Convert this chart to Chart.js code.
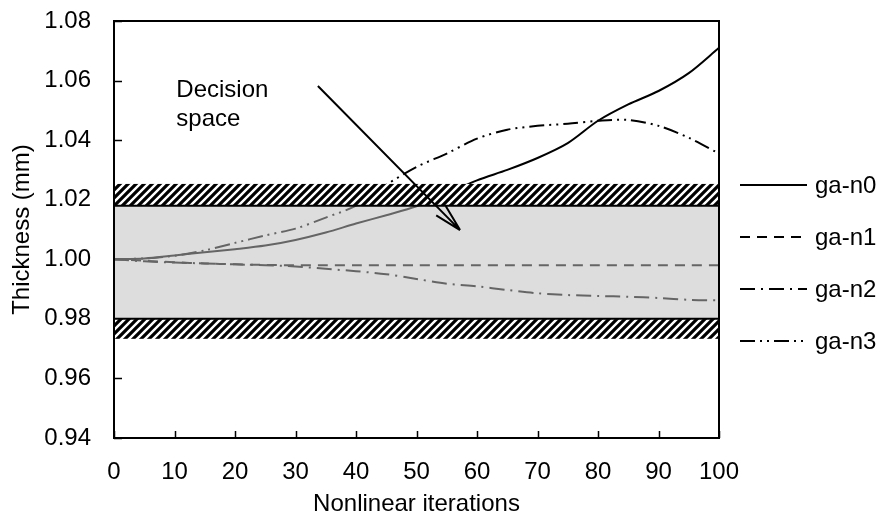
<!DOCTYPE html>
<html lang="en">
<head>
  <meta charset="UTF-8">
  <title>Thickness vs nonlinear iterations</title>
  <script src="https://cdn.jsdelivr.net/npm/chart.js"></script>
  <style>
    body { margin: 0; background: #fff; }
    #wrap { width: 884px; height: 519px; }
  </style>
</head>
<body>
  <div id="wrap"><canvas id="thicknessChart" width="884" height="519"></canvas></div>

  <script>
    // data
    const iterations = [0, 5, 10, 15, 20, 25, 30, 35, 40, 45, 50, 55, 60, 65, 70, 75, 80, 85, 90, 95, 100];
    const gaN0 = [1.000, 1.0003, 1.0013, 1.0024, 1.0034, 1.0046, 1.0065, 1.009, 1.012, 1.0148, 1.0178, 1.022, 1.0265, 1.030, 1.034, 1.039, 1.0465, 1.052, 1.0565, 1.0625, 1.071];
    const gaN1 = [1.000, 0.9995, 0.999, 0.9986, 0.9983, 0.9981, 0.998, 0.998, 0.998, 0.998, 0.998, 0.998, 0.998, 0.998, 0.998, 0.998, 0.998, 0.998, 0.998, 0.998, 0.998];
    const gaN2 = [1.000, 0.9993, 0.9989, 0.9986, 0.9983, 0.998, 0.9976, 0.9968, 0.996, 0.995, 0.9934, 0.9918, 0.9909, 0.9897, 0.9886, 0.988, 0.9877, 0.9874, 0.987, 0.9864, 0.9862];
    const gaN3 = [1.000, 1.0003, 1.0012, 1.003, 1.0055, 1.008, 1.0103, 1.014, 1.018, 1.025, 1.031, 1.0355, 1.0405, 1.0435, 1.0448, 1.0455, 1.0465, 1.0468, 1.0448, 1.0408, 1.0355];
    const seriesNames = ['ga-n0', 'ga-n1', 'ga-n2', 'ga-n3'];
    const seriesDash = [[], [10, 7], [15, 6, 2, 6], [15, 5, 2, 5, 2, 5]];

    // decision space and tolerance bands (thickness, mm)
    const boxLow = 0.98, boxHigh = 1.018;
    const hatchTop = [1.018, 1.0253];
    const hatchBottom = [0.9733, 0.98];
    const arrowFrom = [33.7, 1.0582], arrowTo = [57.2, 1.0098];
    const noteAt = [10.3, 1.0544];
    const noteLines = ['Decision', 'space'];

    const FONT = '"Liberation Sans", Arial, sans-serif';
    Chart.defaults.font.family = FONT;
    Chart.defaults.color = '#000';

    const allSeries = [gaN0, gaN1, gaN2, gaN3];
    const datasets = allSeries.map((vals, i) => ({
      label: seriesNames[i],
      data: iterations.map((x, j) => ({ x: x, y: vals[j] })),
      borderColor: '#000',
      borderWidth: 2,
      borderDash: seriesDash[i],
      pointRadius: 0,
      tension: 0.3,
      fill: false
    }));

    // diagonal hatch pattern
    function makeHatch(ctx) {
      const c = document.createElement('canvas');
      c.width = 8; c.height = 8;
      const p = c.getContext('2d');
      p.fillStyle = '#fff';
      p.fillRect(0, 0, 8, 8);
      p.strokeStyle = '#000';
      p.lineWidth = 3.2;
      p.beginPath();
      p.moveTo(-2, 10); p.lineTo(10, -2);
      p.moveTo(-6, 6); p.lineTo(6, -6);
      p.moveTo(2, 14); p.lineTo(14, 2);
      p.stroke();
      return ctx.createPattern(c, 'repeat');
    }

    const decorations = {
      id: 'decorations',
      afterDatasetsDraw(chart) {
        const ctx = chart.ctx;
        const a = chart.chartArea;
        const xs = chart.scales.x, ys = chart.scales.y;
        ctx.save();

        // inward tick marks
        ctx.strokeStyle = '#000';
        ctx.lineWidth = 1.5;
        ctx.beginPath();
        ys.ticks.forEach(t => {
          const py = Math.round(ys.getPixelForValue(t.value)) + 0.5;
          ctx.moveTo(a.left, py); ctx.lineTo(a.left + 8, py);
        });
        xs.ticks.forEach(t => {
          const px = Math.round(xs.getPixelForValue(t.value)) + 0.5;
          ctx.moveTo(px, a.bottom); ctx.lineTo(px, a.bottom - 7);
        });
        ctx.stroke();

        // translucent grey decision box over the lines
        const yHi = ys.getPixelForValue(boxHigh), yLo = ys.getPixelForValue(boxLow);
        ctx.fillStyle = 'rgba(191,191,191,0.53)';
        ctx.fillRect(a.left, yHi, a.right - a.left, yLo - yHi);

        // hatched bands
        const pat = makeHatch(ctx);
        ctx.fillStyle = pat;
        [hatchTop, hatchBottom].forEach(b => {
          const y1 = ys.getPixelForValue(b[1]), y0 = ys.getPixelForValue(b[0]);
          ctx.fillRect(a.left, y1, a.right - a.left, y0 - y1);
        });

        ctx.lineWidth = 2;
        ctx.beginPath();
        ctx.moveTo(a.left, yHi); ctx.lineTo(a.right, yHi);
        ctx.moveTo(a.left, yLo); ctx.lineTo(a.right, yLo);
        ctx.stroke();

        // plot frame
        ctx.strokeRect(a.left, a.top, a.right - a.left, a.bottom - a.top);

        // arrow
        const x0 = xs.getPixelForValue(arrowFrom[0]), y0 = ys.getPixelForValue(arrowFrom[1]);
        const x1 = xs.getPixelForValue(arrowTo[0]), y1 = ys.getPixelForValue(arrowTo[1]);
        const ang = Math.atan2(y1 - y0, x1 - x0);
        ctx.lineWidth = 2;
        ctx.beginPath();
        ctx.moveTo(x0, y0); ctx.lineTo(x1, y1);
        [0.24, -0.24].forEach(d => {
          ctx.moveTo(x1, y1);
          ctx.lineTo(x1 - 28 * Math.cos(ang + d), y1 - 28 * Math.sin(ang + d));
        });
        ctx.stroke();

        // note text
        ctx.fillStyle = '#000';
        ctx.font = '24px ' + FONT;
        ctx.textBaseline = 'alphabetic';
        ctx.textAlign = 'left';
        const nx = xs.getPixelForValue(noteAt[0]), ny = ys.getPixelForValue(noteAt[1]);
        noteLines.forEach((s, i) => ctx.fillText(s, nx, ny + i * 29));

        // legend on the right
        chart.data.datasets.forEach((ds, i) => {
          const ly = 185 + i * 52;
          ctx.setLineDash(ds.borderDash);
          ctx.lineWidth = 2;
          ctx.beginPath();
          ctx.moveTo(a.right + 21, ly); ctx.lineTo(a.right + 88, ly);
          ctx.stroke();
          ctx.setLineDash([]);
          ctx.textBaseline = 'middle';
          ctx.fillText(ds.label, a.right + 96, ly + 1);
        });
        ctx.restore();
      }
    };

    new Chart(document.getElementById('thicknessChart'), {
      type: 'line',
      data: { datasets: datasets },
      options: {
        responsive: false,
        animation: false,
        layout: { padding: { left: 0, right: 165, top: 21, bottom: 0 } },
        plugins: { legend: { display: false }, tooltip: { enabled: false } },
        scales: {
          x: {
            type: 'linear',
            min: 0, max: 100,
            grid: { display: false, drawTicks: false },
            border: { display: false },
            ticks: { stepSize: 10, padding: 20, font: { size: 24 }, maxRotation: 0 },
            title: { display: true, text: 'Nonlinear iterations', font: { size: 24 }, padding: { top: 0, bottom: 0 } },
            afterFit(s) { s.height = 81; s.paddingLeft = 0; s.paddingRight = 0; }
          },
          y: {
            min: 0.94, max: 1.08,
            grid: { display: false, drawTicks: false },
            border: { display: false },
            ticks: { stepSize: 0.02, padding: 23, font: { size: 24 }, callback: v => v.toFixed(2) },
            title: { display: true, text: 'Thickness (mm)', font: { size: 24 }, padding: { top: 8, bottom: 0 } },
            afterFit(s) { s.width = 114; s.paddingTop = 0; s.paddingBottom = 0; }
          }
        }
      },
      plugins: [decorations]
    });
  </script>
</body>
</html>
